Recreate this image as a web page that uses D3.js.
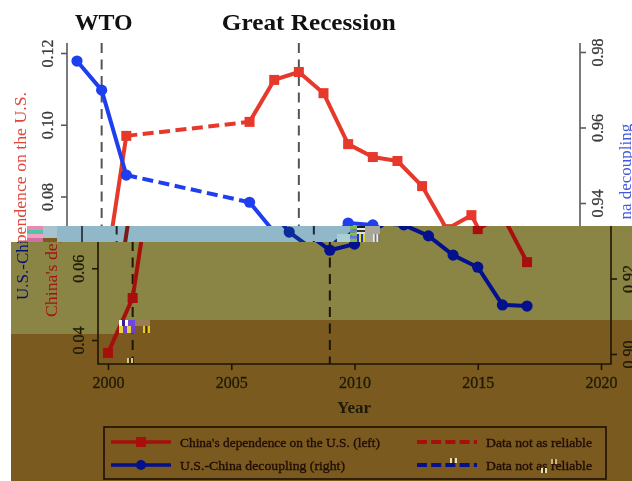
<!DOCTYPE html>
<html>
<head>
<meta charset="utf-8">
<script src="https://cdn.jsdelivr.net/npm/d3@7"></script>
<style>
html,body{margin:0;padding:0;background:#fff;overflow:hidden}
svg{display:block;filter:blur(0.45px)}
text{font-family:"Liberation Serif",serif}
</style>
</head>
<body>
<script>
const years = [2000,2001,2002,2007,2008,2009,2010,2011,2012,2013,2014,2015,2016,2017];
const dependence = [0.0364,0.0517,0.0969,0.1008,0.1125,0.1147,0.1088,0.0946,0.0910,0.0899,0.0829,0.0709,0.0748,0.0617];
const decoupling = [0.9776,0.9699,0.9474,0.9402,0.9323,0.9275,0.9291,0.9347,0.9342,0.9313,0.9262,0.9230,0.9130,0.9127];
const yearTicks = [2000,2005,2010,2015,2020];
const leftTicks = [0.04,0.06,0.08,0.10,0.12];
const rightTicks = [0.90,0.92,0.94,0.96,0.98];
const events = [{year:2001,label:"WTO"},{year:2009,label:"Great Recession"}];
const unreliableFrom = 2002, unreliableTo = 2007;
const legendLabels = ["China's dependence on the U.S. (left)","U.S.-China decoupling (right)","Data not as reliable"];
const axisTitles = ["China's dependence on the U.S.","U.S.-Chi","na decoupling","Year"];

const W = 632, H = 481;
const x = d3.scaleLinear().domain([2000,2020]).range([77,570]);
const yL = d3.scaleLinear().domain([0.04,0.12]).range([340,53]);
const yR = d3.scaleLinear().domain([0.90,0.98]).range([354,52]);
const axisTop = 43, axisBottom = 364, axisLeft = 67, axisRight = 580;

const svg = d3.select("body").append("svg").attr("width",W).attr("height",H);
const defs = svg.append("defs");

const bright = {red:"#e6392b",blue:"#1f3fee",axis:"#5a5a5a",tick:"#3a3a3a",title:"#111",redT:"#e0483c",blueT:"#3f59e0",ref:"#555"};
const cool   = {red:"#7c1a16",blue:"#0d2c9c",axis:"#223",tick:"#223",title:"#111",redT:"#8a2020",blueT:"#1a2f90",ref:"#1c2a33"};
const dark   = {red:"#a60f0b",blue:"#03118c",axis:"#1d1605",tick:"#1e1a06",title:"#1e1a06",redT:"#a01410",blueT:"#06126e",ref:"#1b1705"};

function bg(a,b,c,d,f){svg.append("rect").attr("x",a).attr("y",b).attr("width",c-a).attr("height",d-b).attr("fill",f);}
// colour damage of the picture, lower part
bg(11,226,632,481,"#7a5a1f");
bg(11,242,632,320,"#8b8545");
bg(11,320,119,334,"#8b8545");
bg(380,226,632,242,"#8b8545");
bg(57,226,380,242,"#90b8c9");

function draw(g,dx,p){
  const c = g.append("g").attr("transform",`translate(${dx},0)`);
  // reference lines
  c.selectAll(".ref").data(events).join("line")
    .attr("x1",d=>x(d.year)).attr("x2",d=>x(d.year)).attr("y1",axisTop).attr("y2",axisBottom)
    .attr("stroke",p.ref).attr("stroke-width",2).attr("stroke-dasharray","10,6.5");
  c.selectAll(".evt").data(events).join("text")
    .attr("x",d=>x(d.year)+ (d.year===2001?2:10)).attr("y",30)
    .attr("text-anchor","middle").attr("font-size",23).attr("font-weight","bold")
    .attr("textLength",d=>d.year===2001?58:174).attr("lengthAdjust","spacingAndGlyphs")
    .attr("fill",p.title).text(d=>d.label);

  // axes
  const styleAxis = (a)=>{
    a.select(".domain").remove();
    a.selectAll("line").attr("stroke",p.axis).attr("stroke-width",1.6);
    a.selectAll("text").attr("fill",p.tick).attr("stroke",p.tick).attr("stroke-width",0.3)
      .attr("font-size",16).attr("font-family","Liberation Serif");
  };
  const ax1 = c.append("g").attr("transform",`translate(${axisLeft},0)`)
    .call(d3.axisLeft(yL).tickValues(leftTicks).tickFormat(d3.format(".2f")).tickSize(6));
  styleAxis(ax1);
  ax1.selectAll("text").attr("x",0).attr("dy",0).attr("text-anchor","middle")
    .attr("transform","translate(-14,0) rotate(-90)").attr("y",0);
  const ax2 = c.append("g").attr("transform",`translate(${axisRight},0)`)
    .call(d3.axisRight(yR).tickValues(rightTicks).tickFormat(d3.format(".2f")).tickSize(6));
  styleAxis(ax2);
  ax2.selectAll("text").attr("x",0).attr("dy",0).attr("text-anchor","middle")
    .attr("transform","translate(23,0) rotate(-90)").attr("y",0);
  const ax3 = c.append("g").attr("transform",`translate(0,${axisBottom})`)
    .call(d3.axisBottom(x).tickValues(yearTicks).tickFormat(d3.format("d")).tickSize(6));
  styleAxis(ax3);
  ax3.selectAll("text").attr("y",13).attr("dy","0.71em").attr("text-anchor","middle");
  c.append("path").attr("d",`M${axisLeft},${axisTop}V${axisBottom}H${axisRight}V${axisTop}`)
    .attr("fill","none").attr("stroke",p.axis).attr("stroke-width",1.6);

  // axis titles
  c.append("text").attr("transform","translate(26,317) rotate(-90)").attr("font-size",17)
    .attr("textLength",225).attr("lengthAdjust","spacingAndGlyphs").attr("fill",p.redT).text(axisTitles[0]);
  const bt = c.append("text").attr("transform","translate(631,300) rotate(-90)").attr("font-size",17).attr("fill",p.blueT);
  bt.append("tspan").text(axisTitles[1]);
  bt.append("tspan").attr("dx",20).text(axisTitles[2]);
  c.append("text").attr("x",323).attr("y",413).attr("text-anchor","middle")
    .attr("font-size",17).attr("font-weight","bold").attr("fill",p.title).text(axisTitles[3]);

  // series
  const series = [
    {vals:dependence,y:yL,col:p.red,sq:true},
    {vals:decoupling,y:yR,col:p.blue,sq:false}
  ];
  series.forEach(s=>{
    const pts = years.map((yr,i)=>({yr,v:s.vals[i]}));
    const line = d3.line().x(d=>x(d.yr)).y(d=>s.y(d.v));
    const solidA = pts.filter(d=>d.yr<=unreliableFrom);
    const gap = pts.filter(d=>d.yr===unreliableFrom||d.yr===unreliableTo);
    const solidB = pts.filter(d=>d.yr>=unreliableTo);
    [solidA,solidB].forEach(seg=>c.append("path").attr("d",line(seg)).attr("fill","none")
      .attr("stroke",s.col).attr("stroke-width",4).attr("stroke-linejoin","round"));
    c.append("path").attr("d",line(gap)).attr("fill","none")
      .attr("stroke",s.col).attr("stroke-width",4).attr("stroke-dasharray","11,5.5");
    if(s.sq){
      c.selectAll(null).data(pts).join("rect")
        .attr("x",d=>x(d.yr)-5).attr("y",d=>s.y(d.v)-5).attr("width",10).attr("height",10).attr("fill",s.col);
    } else {
      c.selectAll(null).data(pts).join("circle")
        .attr("cx",d=>x(d.yr)).attr("cy",d=>s.y(d.v)).attr("r",5.6).attr("fill",s.col);
    }
  });

  // legend
  const lx = 73, lw = 502, ly = 427, lh = 52;
  c.append("rect").attr("x",lx).attr("y",ly).attr("width",lw).attr("height",lh)
    .attr("fill","none").attr("stroke","#1f0f03").attr("stroke-width",1.6);
  const rows = [{col:p.red,sq:true,y:442},{col:p.blue,sq:false,y:465}];
  rows.forEach((r,i)=>{
    c.append("line").attr("x1",lx+7).attr("x2",lx+67).attr("y1",r.y).attr("y2",r.y)
      .attr("stroke",r.col).attr("stroke-width",3.6);
    if(r.sq) c.append("rect").attr("x",lx+32).attr("y",r.y-5).attr("width",10).attr("height",10).attr("fill",r.col);
    else c.append("circle").attr("cx",lx+37).attr("cy",r.y).attr("r",5).attr("fill",r.col);
    c.append("text").attr("x",lx+76).attr("y",r.y+5).attr("font-size",13.5)
      .attr("textLength",i===0?200:165).attr("lengthAdjust","spacingAndGlyphs")
      .attr("fill","#220d04").attr("stroke","#220d04").attr("stroke-width",0.35).text(legendLabels[i]);
    c.append("line").attr("x1",lx+313).attr("x2",lx+373).attr("y1",r.y).attr("y2",r.y)
      .attr("stroke",r.col).attr("stroke-width",3.8).attr("stroke-dasharray","10,4.2");
    c.append("text").attr("x",lx+382).attr("y",r.y+5).attr("font-size",13.5)
      .attr("textLength",106).attr("lengthAdjust","spacingAndGlyphs")
      .attr("fill","#220d04").attr("stroke","#220d04").attr("stroke-width",0.35).text(legendLabels[2]);
  });
}

function band(id,rx,ry,rw,rh,dx,p){
  defs.append("clipPath").attr("id",id).append("rect")
    .attr("x",rx).attr("y",ry).attr("width",rw).attr("height",rh);
  const g = svg.append("g").attr("clip-path",`url(#${id})`);
  draw(g,dx,p);
  // keep only the texts that this strip of the picture actually shows
  g.selectAll("text").each(function(){
    const b = this.getBoundingClientRect();
    if(b.right<=rx||b.left>=rx+rw||b.bottom<=ry||b.top>=ry+rh) this.remove();
  });
}
band("top",0,0,W,226,0,bright);
band("cool",57,226,323,16,15,cool);
band("low1",380,226,252,16,31,dark);
band("low2",11,242,621,239,31,dark);
band("wrap",11,242,60,239,-603,dark);
bg(11,226,27,242,"#fff");
band("leftTop",11,226,16,16,0,bright);

// small decoded-block artefacts
function stripes(a,b,w,h,cols,vertical){
  const n = cols.length;
  cols.forEach((f,i)=>{
    if(vertical) bg(a+i*w/n,b,a+(i+1)*w/n,b+h,f);
    else bg(a,b+i*h/n,a+w,b+(i+1)*h/n,f);
  });
}
stripes(27,226,16,16,["#e88ab0","#4fc4a8","#f2a0c0","#d070a0"],false);
bg(43,226,57,238,"#a9c2cf");
bg(337,234,350,242,"#a8d0d4");
stripes(350,226,7,16,["#7cb84a","#6a80e8","#8ac040","#6a70e0","#80b848"],false);
stripes(357,226,8,8,["#1a1a1a","#e8e8e8","#333","#e0e0e0"],false);
stripes(357,234,8,8,["#2030c0","#e8e020","#2030c0","#d8d820"],true);
bg(365,226,380,242,"#a8a89a");
stripes(373,234,7,8,["#eee","#777","#eee","#777"],true);
stripes(119,320,9,6,["#fff","#3a2090","#fff"],true);
bg(128,320,135,326,"#7048e0");
bg(135,320,150,326,"#9a7d58");
stripes(119,326,16,7,["#e8d040","#7040d0","#e8d040","#7040d0"],true);
stripes(143,326,7,7,["#e8c828","#443010","#e8c828"],true);
stripes(127,358,6,5,["#d8c890","#443010","#d8c890"],true);
stripes(450,458,7,5,["#e8e0b0","#443010","#e8e0b0"],true);
stripes(541,468,6,5,["#e8e0b0","#443010","#e8e0b0"],true);
stripes(551,459,6,5,["#c8b880","#5a3a12","#c8b880"],true);
</script>
</body>
</html>
